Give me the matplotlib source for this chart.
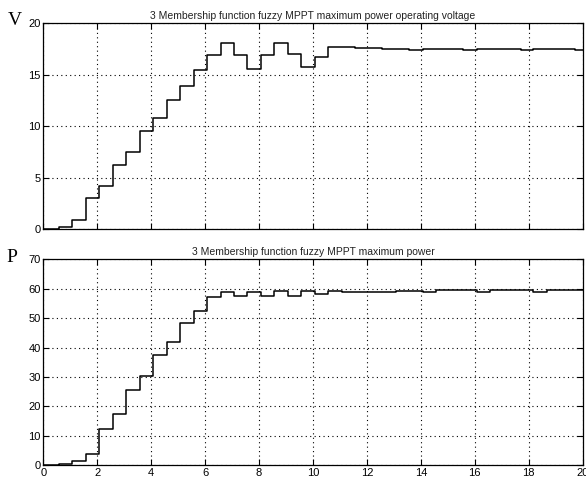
import numpy as np
import matplotlib
matplotlib.use("Agg")
import matplotlib.pyplot as plt

# step change times (s) and the value held after each change
v_time = [0, 0.57, 1.07, 1.57, 2.07, 2.57, 3.07, 3.57, 4.07, 4.57, 5.07, 5.57,
          6.07, 6.57, 7.07, 7.57, 8.07, 8.57, 9.07, 9.57, 10.07, 10.57, 11.57,
          12.57, 13.57, 14.07, 15.57, 16.07, 17.7, 18.17, 19.72]
v_vals = [0.05, 0.25, 0.9, 3.0, 4.25, 6.25, 7.55, 9.5, 10.8, 12.6, 13.9, 15.5,
          16.9, 18.1, 16.9, 15.6, 16.9, 18.05, 17.0, 15.8, 16.7, 17.7, 17.6,
          17.5, 17.4, 17.5, 17.4, 17.5, 17.4, 17.5, 17.4]

p_time = [0, 0.57, 1.07, 1.57, 2.07, 2.57, 3.07, 3.57, 4.07, 4.57, 5.07, 5.57,
          6.07, 6.57, 7.07, 7.57, 8.07, 8.57, 9.07, 9.57, 10.07, 10.57, 11.07,
          13.07, 14.07, 14.57, 16.07, 16.57, 18.17, 18.69]
p_vals = [0.0, 0.35, 1.5, 4.0, 12.5, 17.6, 25.5, 30.2, 37.6, 42.0, 48.5, 52.4,
          57.2, 58.9, 57.6, 58.9, 57.6, 59.2, 57.7, 59.3, 58.1, 59.2, 58.8,
          59.3, 59.0, 59.45, 58.9, 59.45, 58.9, 59.45]

t_end = 20
x_ticks = [0, 2, 4, 6, 8, 10, 12, 14, 16, 18, 20]
v_ticks = [0, 5, 10, 15, 20]
p_ticks = [0, 10, 20, 30, 40, 50, 60, 70]

fig = plt.figure(figsize=(5.86, 4.79), dpi=100)
ax1 = fig.add_axes([0.0739, 0.5213, 0.9205, 0.430])
ax2 = fig.add_axes([0.0739, 0.0286, 0.9205, 0.430])

font = "Liberation Sans"

def style(ax, yticks, ylim, title):
    ax.set_xlim(0, 20)
    ax.set_ylim(*ylim)
    ax.set_xticks(x_ticks)
    ax.set_yticks(yticks)
    ax.grid(True, linestyle=(0, (1, 3)), color="black", linewidth=0.8)
    ax.tick_params(direction="in", length=4, top=True, right=True,
                   labelsize=8, pad=2)
    for lab in ax.get_xticklabels() + ax.get_yticklabels():
        lab.set_fontfamily(font)
    for sp in ax.spines.values():
        sp.set_linewidth(0.9)
    ax.set_title(title, fontsize=7.5, family=font, pad=3, color="#222222")

ax1.step(v_time + [t_end], v_vals + [v_vals[-1]], where="post",
         color="black", linewidth=1.1)
style(ax1, v_ticks, (0, 20),
      "3 Membership function fuzzy MPPT maximum power operating voltage")
ax1.tick_params(labelbottom=False)

ax2.step(p_time + [t_end], p_vals + [p_vals[-1]], where="post",
         color="black", linewidth=1.1)
style(ax2, p_ticks, (0, 70), "3 Membership function fuzzy MPPT maximum power")

fig.text(0.013, 0.958, "V", family="Liberation Serif", fontsize=14,
         va="center", ha="left")
fig.text(0.011, 0.462, "P", family="Liberation Serif", fontsize=14,
         va="center", ha="left")

fig.savefig("out.png", dpi=100)
